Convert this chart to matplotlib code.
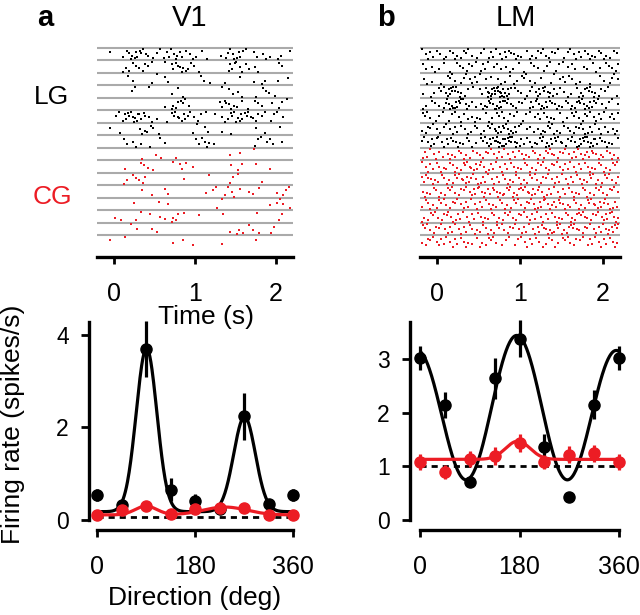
import numpy as np
import matplotlib
matplotlib.use('Agg')
import matplotlib.pyplot as plt

plt.rcParams['font.family'] = ['Liberation Sans', 'DejaVu Sans']

RED = '#ec1c24'
GRID = '#aaaaaa'

# --- raster data: spike counts per 0.1 s bin (t = -0.2 .. 2.2 s), one string per direction band
bin_start = -0.2
bin_width = 0.1

v1_lg_counts = [
    "010354223432210244122121",
    "000323201443100043220020",
    "000110112000120101012011",
    "000020100210000122012200",
    "000000001431000432121121",
    "002564211443211245432220",
    "011003310001120110011010",
    "000221111000331000022210",
]
v1_cg_counts = [
    "000001020100000011010000",
    "000102200131000012010100",
    "000223000010010021001000",
    "000001102000012131120022",
    "000010011000001100000131",
    "002011111410100100010020",
    "000020110000000013120200",
    "010100000111000100010000",
]
lm_lg_counts = [
    "332333223343233322333332",
    "222123232222122222212223",
    "211323321222321123211123",
    "123752138962235532245321",
    "222664236643245433455322",
    "322232322332223322333323",
    "332332324554223432343323",
    "343433236775334543466432",
]
lm_cg_counts = [
    "332333233333333433344333",
    "333334443333333333333333",
    "433344433333333333334333",
    "333333444444444333333333",
    "333333333333344443334443",
    "333433333333333333443344",
    "333333333333334444433345",
    "333333233222332323323333",
]

# --- tuning curves
directions = [0, 45, 90, 135, 180, 225, 270, 315, 360]

v1_lg_rate = [0.54, 0.33, 3.70, 0.65, 0.42, 0.24, 2.24, 0.35, 0.54]
v1_lg_err = [0.14, 0.05, 0.61, 0.25, 0.14, 0.04, 0.50, 0.05, 0.14]
v1_cg_rate = [0.11, 0.21, 0.30, 0.12, 0.24, 0.27, 0.26, 0.11, 0.11]
v1_cg_err = [0.04, 0.04, 0.06, 0.04, 0.05, 0.04, 0.05, 0.04, 0.04]
v1_spont = 0.07

lm_lg_rate = [3.02, 2.15, 0.70, 2.64, 3.38, 1.36, 0.43, 2.15, 3.02]
lm_lg_err = [0.22, 0.24, 0.05, 0.38, 0.34, 0.25, 0.0, 0.27, 0.22]
lm_cg_rate = [1.08, 0.90, 1.13, 1.19, 1.43, 1.08, 1.22, 1.24, 1.08]
lm_cg_err = [0.15, 0.13, 0.15, 0.17, 0.17, 0.13, 0.16, 0.15, 0.15]
lm_spont = 1.01

# fitted model parameters
v1_lg_fit = (0.18, 3.53, 91, 19, 2.05, 271, 20)   # base, amp1, mu1, sd1, amp2, mu2, sd2
v1_cg_fit = (0.11, 0.19, 90, 20, 0.17, 235, 40)
lm_lg_fit = (2.025, 1.275, 0.14, 175)               # mean, amp 2theta, amp theta, pref
lm_cg_fit = (1.13, 0.34, 177, 22)


def double_gauss(th, p):
    b, a1, m1, s1, a2, m2, s2 = p
    return b + a1 * np.exp(-(th - m1) ** 2 / (2 * s1 ** 2)) + a2 * np.exp(-(th - m2) ** 2 / (2 * s2 ** 2))


def cos_fit(th, p):
    m, a2, a1, pref = p
    r = np.deg2rad(th - pref)
    return m + a2 * np.cos(2 * r) + a1 * np.cos(r)


def gauss_fit(th, p):
    b, a, m, s = p
    return b + a * np.exp(-(th - m) ** 2 / (2 * s ** 2))


def spikes_from_counts(counts, band0):
    xs, ys = [], []
    rows = [0.12, 0.32, 0.52, 0.72, 0.92, 0.22, 0.62, 0.42, 0.82]
    for k, line in enumerate(counts):
        band = band0 + k
        for j, ch in enumerate(line):
            c = int(ch)
            for i in range(c):
                r = (i * 2 + j + band) % len(rows)
                x = bin_start + bin_width * (j + (i + 0.5) / c + ((r % 3) - 1) * 0.2 / c)
                xs.append(x)
                ys.append(band + rows[r])
    return xs, ys


def px(x, y):
    return x / 640, 1 - y / 615


fig = plt.figure(figsize=(6.4, 6.15), dpi=100)


def raster(rect, lg, cg):
    ax = fig.add_axes(rect)
    for k in range(16):
        ax.axhline(k, color=GRID, lw=1.5, zorder=1)
    x, y = spikes_from_counts(lg, 0)
    ax.scatter(x, y, s=3.5, marker='s', c='k', linewidths=0, zorder=2)
    x, y = spikes_from_counts(cg, 8)
    ax.scatter(x, y, s=3.5, marker='s', c=RED, linewidths=0, zorder=2)
    ax.set_xlim(-0.21, 2.21)
    ax.set_ylim(16.76, -0.24)
    for s in ['left', 'top', 'right']:
        ax.spines[s].set_visible(False)
    ax.spines['bottom'].set_linewidth(2.4)
    ax.set_yticks([])
    ax.set_xticks([0, 1, 2])
    ax.tick_params(axis='x', length=5, width=2, labelsize=18, pad=13)
    return ax


def unclip(eb):
    eb.lines[0].set_clip_on(False)
    for art in eb.lines[2]:
        art.set_clip_on(False)


def tuning(rect, ymax, yticks, lg_rate, lg_err, cg_rate, cg_err, spont, lg_curve, cg_curve, left_out):
    ax = fig.add_axes(rect)
    th = np.linspace(0, 360, 361)
    ax.plot([0, 360], [spont, spont], ls=(0, (2.2, 1.8)), color='k', lw=2.0, zorder=2)
    ax.plot(th, lg_curve(th), color='k', lw=2.3, zorder=3)
    unclip(ax.errorbar(directions, lg_rate, yerr=lg_err, fmt='o', color='k', ms=8,
                       elinewidth=2.3, capsize=0, zorder=4))
    ax.plot(th, cg_curve(th), color=RED, lw=2.3, zorder=5)
    unclip(ax.errorbar(directions, cg_rate, yerr=cg_err, fmt='o', color=RED, ms=8,
                       elinewidth=2.3, capsize=0, zorder=6))
    ax.set_xlim(0, 360)
    ax.set_ylim(0, ymax)
    ax.set_xticks([0, 180, 360])
    ax.set_yticks(yticks)
    for s in ['top', 'right']:
        ax.spines[s].set_visible(False)
    ax.spines['left'].set_position(('outward', left_out))
    ax.spines['bottom'].set_position(('outward', 7.5))
    for s in ['left', 'bottom']:
        ax.spines[s].set_linewidth(2.4)
    ax.tick_params(axis='x', length=5, width=2, labelsize=18, pad=13)
    ax.tick_params(axis='y', length=5.5, width=2, labelsize=16.5, pad=9)
    ax.patch.set_visible(False)
    return ax


# raster panels
raster([97 / 640, 1 - 257 / 615, 196 / 640, 212 / 615], v1_lg_counts, v1_cg_counts)
raster([420 / 640, 1 - 257 / 615, 200 / 640, 212 / 615], lm_lg_counts, lm_cg_counts)

# tuning panels
ax_a = tuning([97 / 640, 1 - 520 / 615, 196 / 640, 198 / 615], 4.28, [0, 2, 4],
              v1_lg_rate, v1_lg_err, v1_cg_rate, v1_cg_err, v1_spont,
              lambda t: double_gauss(t, v1_lg_fit), lambda t: double_gauss(t, v1_cg_fit), 5.8)
ax_b = tuning([420 / 640, 1 - 520 / 615, 199 / 640, 198 / 615], 3.69, [0, 1, 2, 3],
              lm_lg_rate, lm_lg_err, lm_cg_rate, lm_cg_err, lm_spont,
              lambda t: cos_fit(t, lm_lg_fit), lambda t: gauss_fit(t, lm_cg_fit), 7.2)

# text
fig.text(*px(45, 18), 'a', fontsize=21, fontweight='bold', ha='center', va='center')
fig.text(*px(190, 18), 'V1', fontsize=21, ha='center', va='center')
fig.text(*px(386, 18), 'b', fontsize=21, fontweight='bold', ha='center', va='center')
fig.text(*px(516, 18), 'LM', fontsize=21, ha='center', va='center')
fig.text(*px(52, 97), 'LG', fontsize=19, ha='center', va='center')
fig.text(*px(52, 197), 'CG', fontsize=19, ha='center', va='center', color=RED)
fig.text(*px(206, 317), 'Time (s)', fontsize=19, ha='center', va='center')
fig.text(*px(195, 598), 'Direction (deg)', fontsize=19, ha='center', va='center')
fig.text(*px(13, 424), 'Firing rate (spikes/s)', fontsize=19, ha='center', va='center', rotation=90)

fig.savefig('out.png', dpi=100)
